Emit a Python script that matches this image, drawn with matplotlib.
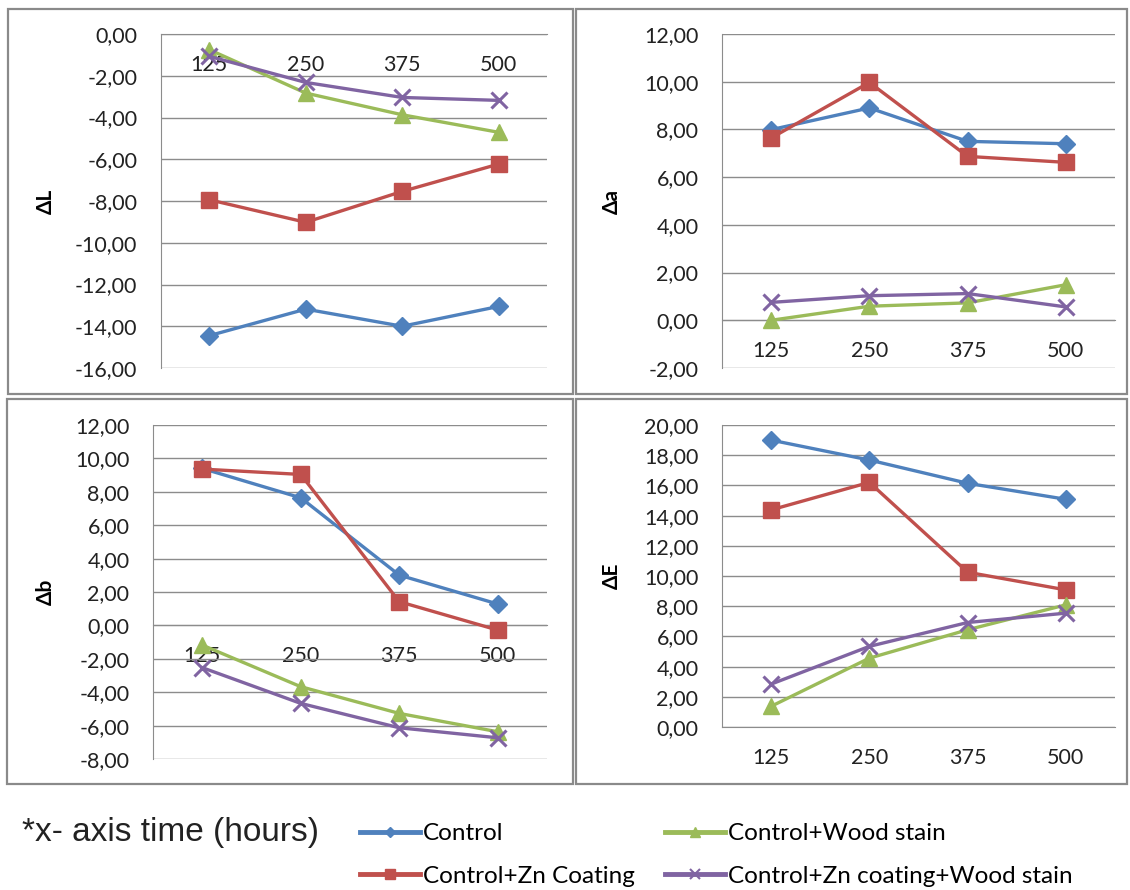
import numpy as np
import matplotlib.pyplot as plt
from matplotlib.lines import Line2D
from matplotlib.patches import Rectangle
from matplotlib.ticker import FuncFormatter, MultipleLocator

plt.rcParams['font.family'] = ['Lato', 'DejaVu Sans']

# データ
hours = ['125', '250', '375', '500']
series_names = ['Control', 'Control+Zn Coating', 'Control+Wood stain',
                'Control+Zn coating+Wood stain']

dL_control = [-14.45, -13.18, -14.0, -13.05]
dL_zn = [-7.94, -9.02, -7.54, -6.23]
dL_wood = [-0.75, -2.83, -3.87, -4.71]
dL_znwood = [-1.07, -2.32, -3.04, -3.18]

da_control = [7.99, 8.9, 7.5, 7.4]
da_zn = [7.64, 9.97, 6.87, 6.62]
da_wood = [0.0, 0.59, 0.73, 1.49]
da_znwood = [0.75, 1.03, 1.12, 0.56]

db_control = [9.4, 7.64, 3.01, 1.28]
db_zn = [9.36, 9.04, 1.42, -0.28]
db_wood = [-1.18, -3.67, -5.27, -6.37]
db_znwood = [-2.53, -4.67, -6.13, -6.73]

dE_control = [19.0, 17.68, 16.14, 15.08]
dE_zn = [14.38, 16.2, 10.25, 9.08]
dE_wood = [1.37, 4.56, 6.44, 8.09]
dE_znwood = [2.84, 5.34, 6.92, 7.54]

colors = ['#4F81BD', '#C0504D', '#9BBB59', '#8064A2']
markers = ['D', 's', '^', 'x']
msizes = [9, 11.5, 12, 12]
grid_c = '#8C8C8C'

W, H = 1130, 890
fig = plt.figure(figsize=(W / 100, H / 100), dpi=100)


def px_rect(x0, y0, x1, y1):
    return [x0 / W, (H - y1) / H, (x1 - x0) / W, (y1 - y0) / H]


# パネルの枠
for (x0, y0, x1, y1) in [(8, 9, 573, 394), (576, 9, 1127, 394),
                         (7, 399, 573, 784), (576, 399, 1127, 784)]:
    r = px_rect(x0, y0, x1, y1)
    fig.patches.append(Rectangle((r[0], r[1]), r[2], r[3], transform=fig.transFigure,
                                 fill=False, edgecolor='#8A8A8A', linewidth=1.6))

panels = [
    (px_rect(161, 34, 547, 368), [dL_control, dL_zn, dL_wood, dL_znwood], (-16, 0), 'ΔL', -0.272),
    (px_rect(722, 34, 1115, 368), [da_control, da_zn, da_wood, da_znwood], (-2, 12), 'Δa', -0.254),
    (px_rect(153, 425, 547, 759), [db_control, db_zn, db_wood, db_znwood], (-8, 12), 'Δb', -0.246),
    (px_rect(722, 425, 1115, 727), [dE_control, dE_zn, dE_wood, dE_znwood], (0, 20), 'ΔE', -0.254),
]

fmt = FuncFormatter(lambda v, p: f"{v:.2f}".replace('.', ','))
x = np.arange(len(hours))

for rect, data, ylim, ylab, labx in panels:
    ax = fig.add_axes(rect)
    for vals, c, m, ms in zip(data, colors, markers, msizes):
        ax.plot(x, vals, color=c, marker=m, markersize=ms, linewidth=2.4,
                markeredgewidth=2.2 if m == 'x' else 1, markeredgecolor=c, zorder=3)
    ax.set_xlim(-0.5, len(hours) - 0.5)
    ax.set_ylim(*ylim)
    ax.yaxis.set_major_locator(MultipleLocator(2))
    ax.yaxis.set_major_formatter(fmt)
    ax.set_xticks(x)
    ax.set_xticklabels(hours)
    ax.grid(axis='y', color=grid_c, linewidth=1)
    ax.set_axisbelow(True)
    for s in ['top', 'right']:
        ax.spines[s].set_visible(False)
    ax.spines['left'].set_color(grid_c)
    ax.spines['bottom'].set_color(grid_c)
    ax.spines['bottom'].set_position(('data', 0))
    ax.tick_params(axis='y', length=0, pad=17, labelsize=15.5, labelcolor='#222222')
    ax.tick_params(axis='x', length=0, pad=15, labelsize=15.5, labelcolor='#222222')
    ax.set_ylabel(ylab, fontsize=15, fontweight='bold')
    ax.yaxis.set_label_coords(labx, 0.5)

# 凡例
fig.text(22 / W, (H - 832) / H, '*x- axis time (hours)', family='Liberation Sans',
         fontsize=24, va='center', ha='left', color='#222222')

handles = [Line2D([], [], color=c, marker=m, linewidth=3.5,
                  markersize=ms * 0.6, markeredgewidth=1.5 if m == 'x' else 1)
           for c, m, ms in zip(colors, markers, msizes)]
fig.legend(handles, series_names, ncol=2, loc='upper left',
           bbox_to_anchor=(360 / W, (H - 823) / H), frameon=False, fontsize=17.5,
           handlelength=2.47, handletextpad=0.12, columnspacing=1.23,
           labelspacing=0.9, borderpad=0, borderaxespad=0)

fig.savefig('out.png', dpi=100)
